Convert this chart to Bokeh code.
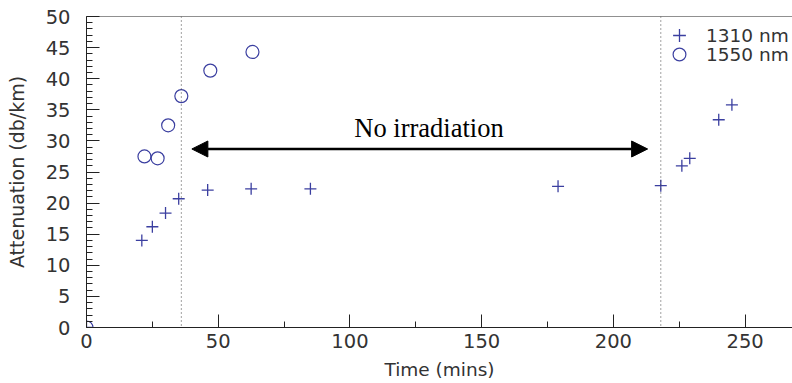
from bokeh.plotting import figure
from bokeh.models import Span, Arrow, NormalHead, Range1d, Legend, LegendItem, Label, FixedTicker
from bokeh.embed import file_html
from bokeh.resources import INLINE

# data
t_1310 = [0, 21, 25, 30, 35, 46, 62.5, 85, 179, 218, 226, 229, 240, 245]
a_1310 = [0, 14.0, 16.2, 18.4, 20.7, 22.1, 22.3, 22.3, 22.7, 22.8, 26.0, 27.2, 33.4, 35.8]
t_1550 = [0, 22, 27, 31, 36, 47, 63]
a_1550 = [0, 27.5, 27.2, 32.5, 37.2, 41.3, 44.3]
irr_start = 36
irr_end = 218
arrow_x = [40, 213]
arrow_y = 28.7
label_text = "No irradiation"
label_x = 130
label_y = 29.7
series_names = ["1310 nm", "1550 nm"]

FONT = "DejaVu Sans"
TXT = "#333333"
BLUE = "#3b3fa0"

p = figure(width=792, height=383, output_backend="svg", toolbar_location=None,
           x_range=Range1d(0, 268), y_range=Range1d(0, 50),
           min_border_left=86, min_border_right=0, min_border_top=16, min_border_bottom=56)
p.outline_line_color = None
p.xgrid.visible = False
p.ygrid.visible = False
p.background_fill_color = "white"

p.xaxis.ticker = FixedTicker(ticks=[0, 50, 100, 150, 200, 250],
                             minor_ticks=[25, 75, 125, 175, 225])
p.yaxis.ticker = FixedTicker(ticks=list(range(0, 51, 5)), minor_ticks=list(range(0, 51)))
for ax in (p.xaxis[0], p.yaxis[0]):
    ax.major_tick_out = 0
    ax.minor_tick_out = 0
    ax.axis_line_color = "#222222"
    ax.major_tick_line_color = "#222222"
    ax.minor_tick_line_color = "#222222"
    ax.major_label_text_font = FONT
    ax.major_label_text_font_size = "19.5px"
    ax.major_label_text_color = TXT
    ax.axis_label_text_font = FONT
    ax.axis_label_text_font_style = "normal"
    ax.axis_label_text_color = TXT
p.xaxis.axis_label_text_font_size = "18.5px"
p.yaxis.axis_label_text_font_size = "19px"
p.xaxis.major_tick_in = 13
p.xaxis.minor_tick_in = 6
p.yaxis.major_tick_in = 13
p.yaxis.minor_tick_in = 6
p.xaxis.axis_label = "Time (mins)"
p.yaxis.axis_label = "Attenuation (db/km)"
p.xaxis.major_label_standoff = 6
p.yaxis.major_label_standoff = 16
p.xaxis.axis_label_standoff = 8
p.yaxis.axis_label_standoff = 15

# top border
p.add_layout(Span(location=50, dimension="width", line_color="#222222", line_width=1))

# dotted markers of irradiation stop/restart
for loc in (irr_start, irr_end):
    p.add_layout(Span(location=loc, dimension="height", line_color="#444444",
                      line_width=1, line_dash="1 3"))

r1 = p.scatter(t_1310, a_1310, marker="cross", size=12, line_color=BLUE, line_width=1.3)
r2 = p.scatter(t_1550, a_1550, marker="circle", size=13, fill_color=None,
               line_color=BLUE, line_width=1.2)

p.add_layout(Arrow(end=NormalHead(size=16, fill_color="black", line_color="black"),
                   start=NormalHead(size=16, fill_color="black", line_color="black"),
                   x_start=arrow_x[0], x_end=arrow_x[1], y_start=arrow_y, y_end=arrow_y,
                   line_width=2.5, line_color="black"))
p.add_layout(Label(x=label_x, y=label_y, text=label_text,
                   text_align="center", text_baseline="bottom",
                   text_font="Liberation Serif", text_font_size="26.5px", text_color="black"))

# one legend per series so the rows can sit close while the glyphs stay large
for name, rend, loc in ((series_names[0], r1, (577, 276)), (series_names[1], r2, (577, 257))):
    lg = Legend(items=[LegendItem(label=name, renderers=[rend])],
                location=loc, border_line_color=None, background_fill_alpha=0,
                label_text_font=FONT, label_text_font_size="18.5px", label_text_color=TXT,
                label_height=20, glyph_height=32, glyph_width=32, spacing=0,
                padding=0, margin=0, label_standoff=11)
    p.add_layout(lg)

open("out.html", "w").write(file_html(p, INLINE))
